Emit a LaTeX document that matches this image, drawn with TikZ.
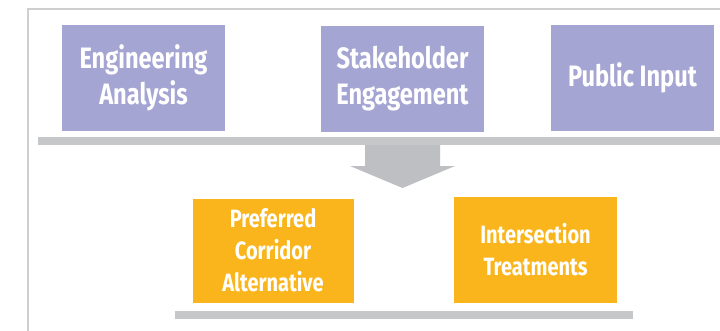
\documentclass[tikz,border=0pt]{standalone}
\usepackage{fontspec}
\newfontfamily\boxfont{Fira Sans}[FakeStretch=0.8]
\definecolor{purplebox}{HTML}{A5A5D3}
\definecolor{orangebox}{HTML}{F9B51B}
\definecolor{barcol}{HTML}{C6C7C9}
\definecolor{arrowcol}{HTML}{BEBFC2}
\definecolor{framecol}{HTML}{CFCFCF}
\begin{document}
\begin{tikzpicture}[x=1pt,y=-1pt,
  topbox/.style={fill=purplebox, text=white, inner sep=0pt, minimum width=163pt, minimum height=106pt, align=center, font=\boxfont\bfseries\fontsize{29.5}{36}\selectfont},
  lowbox/.style={fill=orangebox, text=white, inner sep=0pt, minimum width=161pt, minimum height=104pt, align=center, font=\boxfont\bfseries\fontsize{25}{32}\selectfont},
  graybar/.style={fill=barcol, inner sep=0pt, minimum height=8pt, anchor=north west}]
\useasboundingbox (0,0) rectangle (720,330);
\fill[white] (0,0) rectangle (720,330);
\draw[framecol, line width=2.2pt] (28,340) -- (28,9) -- (730,9);
\node[topbox] (eng) at (143.5,78) {Engineering\\Analysis};
\node[topbox] (stake) at (402.5,79) {Stakeholder\\Engagement};
\node[topbox] (public) at (632.5,78) {Public Input};
\coordinate (shaftL) at (365,141);
\coordinate (tip) at (402.5,188);
\fill[arrowcol] (shaftL) -- (440,141) -- (440,166) -- (455,166) -- (tip) -- (350,166) -- (365,166) -- cycle;
\node[graybar, minimum width=682pt] (topbar) at (38,137) {};
\node[lowbox] (pref) at (273,250.5) {Preferred\\Corridor\\Alternative};
\node[lowbox, minimum width=163pt, minimum height=106pt] (inter) at (535.5,250) {Intersection\\Treatments};
\node[graybar, minimum width=458pt] (botbar) at (175,311) {};
\end{tikzpicture}
\end{document}
